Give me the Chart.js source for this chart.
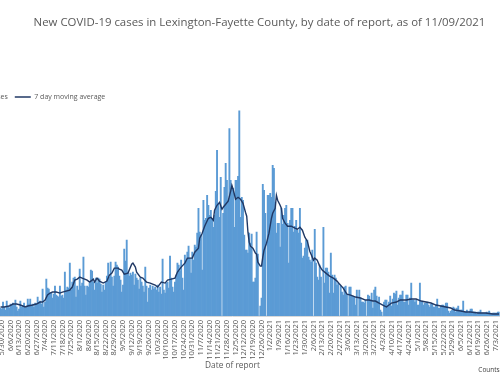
<!DOCTYPE html>
<html><head><meta charset="utf-8">
<script src="https://cdn.jsdelivr.net/npm/chart.js@4.4.1/dist/chart.umd.min.js"></script>
<style>
html,body{margin:0;padding:0;width:500px;height:378px;overflow:hidden;background:#fff;}
#c{position:absolute;top:0;}
</style></head><body>
<canvas id="c"></canvas>
<script>
// ---- data ----
const titleText = 'New COVID-19 cases in Lexington-Fayette County, by date of report, as of 11/09/2021';
const seriesNames = ['New cases', '7 day moving average'];
const xAxisTitle = 'Date of report';
const noteText = 'Counts';
const firstVisibleDate = [2020, 5, 29];   // first visible bar (5/29/2020)
const hiddenDaysBefore = 28;              // dates of the cropped-off part on the left (no visible bars)
const tickEvery = 7;                      // weekly tick labels: 5/30/2020, 6/6/2020, ...
const tickOffset = 1;

const newCases = [
16,14,28,18,12,30,18,16,24,22,
26,22,32,18,10,14,30,18,20,26,
16,20,34,24,34,20,24,18,26,24,
38,28,30,24,54,18,28,74,56,54,
46,46,36,44,60,42,40,38,60,40,
42,36,88,52,58,56,106,52,68,76,
78,38,60,52,94,60,66,118,60,42,
60,58,66,92,90,68,52,76,66,76,
74,64,48,62,52,68,80,106,78,108,
78,60,80,108,102,98,80,72,48,62,
134,110,152,88,80,86,82,88,62,84,
76,72,54,76,68,60,48,98,60,28,
56,62,52,60,54,58,52,62,48,58,
44,114,52,46,66,68,56,120,76,58,
48,68,82,106,102,90,112,76,52,122,
110,128,140,116,86,128,112,142,138,166,
216,168,162,92,232,192,196,242,222,202,
212,196,178,202,250,332,226,198,278,0,
206,258,306,272,232,376,272,256,256,178,
272,272,280,414,198,238,232,162,132,132,
126,166,146,164,68,68,76,168,124,0,
20,36,264,252,206,0,242,242,246,238,
302,296,228,166,186,186,138,216,184,202,
216,222,186,106,192,216,216,168,180,192,
172,166,216,146,116,120,136,152,152,118,
112,108,132,0,174,106,78,72,102,78,
0,178,66,96,96,88,46,126,82,46,
82,76,62,66,0,60,48,42,58,60,
42,0,58,58,40,40,38,22,52,0,
52,36,28,28,26,32,0,42,40,32,
46,16,52,58,40,30,38,12,8,0,
28,32,32,22,28,40,20,34,46,44,
50,22,36,42,42,50,28,28,42,42,
22,36,66,32,32,28,32,22,22,66,
28,28,22,26,26,28,22,18,24,24,
18,18,22,34,16,16,20,22,22,18,
26,26,10,6,10,12,18,16,8,16,
20,12,12,12,30,8,8,12,6,10,
14,14,8,8,8,4,8,8,12,6,
6,6,6,8,6,10,6,4,6,6,
6,6,8,8];

// 7-day moving average, read at these day positions (days after 5/29/2020)
const maDay = [0,3,7,10,13,16,20,22,26,29,
32,34,36,38,40,42,45,48,50,53,
56,58,60,62,64,66,70,72,75,76,
78,80,83,86,88,90,92,95,96,98,
100,103,106,107,109,110,113,115,118,121,
125,127,130,133,135,138,141,143,146,149,
151,155,157,160,161,163,165,168,170,172,
173,175,177,179,180,182,184,186,187,188,
190,192,194,196,198,199,200,201,202,204,
206,207,208,210,211,212,213,215,217,219,
220,222,223,224,226,227,228,230,232,235,
238,240,242,244,246,248,250,251,253,254,
256,258,260,262,264,266,269,272,274,277,
280,283,287,291,295,298,301,303,306,309,
312,314,316,320,323,328,332,336,340,344,
348,352,356,360,364,367,372,376,380,386,
392,398,403];
const maValue = [18,18,20,24,24,22,18,20,22,24,
28,28,32,42,46,48,48,46,48,50,
52,58,72,74,78,76,72,68,74,68,
76,70,66,70,82,86,96,96,94,92,
84,86,104,106,98,88,78,76,68,66,
62,58,68,66,72,74,76,88,98,106,
116,116,128,136,156,166,180,196,198,192,
212,222,228,214,218,224,230,250,262,254,
234,238,234,226,208,200,168,148,140,136,
126,124,108,100,100,118,132,146,166,196,
206,216,242,232,222,216,196,186,180,180,
176,174,178,172,158,150,130,124,112,116,
112,100,92,88,84,80,76,70,64,56,
44,42,38,36,32,32,30,30,26,22,
18,22,26,28,32,32,34,34,30,28,
26,22,20,18,16,12,10,8,8,6,
6,4,4];

// ---- build tables for the library ----
const nCats = hiddenDaysBefore + newCases.length;
const labels = [];
const d0 = new Date(firstVisibleDate[0], firstVisibleDate[1]-1, firstVisibleDate[2]);
for (let i = 0; i < nCats; i++) {
  const d = new Date(d0.getFullYear(), d0.getMonth(), d0.getDate() + i - hiddenDaysBefore);
  labels.push((d.getMonth()+1) + '/' + d.getDate() + '/' + d.getFullYear());
}
const barData = new Array(hiddenDaysBefore).fill(null).concat(newCases);
const maData = new Array(nCats).fill(null);
maDay.forEach((d, i) => { maData[d + hiddenDaysBefore] = maValue[i]; });

// ---- geometry / text sizing ----
const FONT = '"Open Sans", "Liberation Sans", sans-serif';
const mctx = document.createElement('canvas').getContext('2d');
mctx.font = '100px ' + FONT;
const titleSize = 100 * 452 / mctx.measureText(titleText).width;
const legendSize = 7;
mctx.font = legendSize + 'px ' + FONT;
const wNC = mctx.measureText(seriesNames[0]).width;
const legendPad = 7, legendBox = 16;
const shiftL = legendPad + legendBox + legendSize/2 + wNC + legendPad - 15; // canvas px left of page
const W = Math.round(2 * 259.5 + 2 * shiftL);
const H = 378;
const plotLeftPage = -34.5, plotRightPage = 499.9;
const leftAxisW = shiftL + plotLeftPage;
const rightAxisW = W - (shiftL + plotRightPage);

const cv = document.getElementById('c');
cv.width = W; cv.height = H;
cv.style.width = W + 'px'; cv.style.height = H + 'px';
cv.style.left = (-shiftL) + 'px';

const grey = '#595959';
new Chart(cv, {
  data: {
    labels: labels,
    datasets: [
      { type: 'bar', label: seriesNames[0], data: barData, backgroundColor: '#5B9BD5',
        borderWidth: 0, barPercentage: 1, categoryPercentage: 1, order: 1, pointStyle: 'rect',
        yAxisID: 'y', xAxisID: 'x' },
      { type: 'line', label: seriesNames[1], data: maData, borderColor: '#203864',
        backgroundColor: '#203864', borderWidth: 1.4, pointRadius: 0, spanGaps: true,
        tension: 0, order: 0, pointStyle: 'line', yAxisID: 'y', xAxisID: 'x' }
    ]
  },
  options: {
    responsive: false, animation: false, devicePixelRatio: 1,
    layout: { padding: 0 },
    plugins: {
      title: { display: true, text: titleText, color: grey,
        font: { family: FONT, size: titleSize, weight: 'normal' },
        padding: { top: 16, bottom: 86.5 - 16 - titleSize * 1.2 } },
      legend: { display: true, position: 'top', align: 'start',
        labels: { color: grey, font: { family: FONT, size: legendSize }, usePointStyle: true,
          pointStyleWidth: legendBox, boxHeight: 7, padding: legendPad,
          sort: (a, b) => a.datasetIndex - b.datasetIndex } },
      tooltip: { enabled: false }
    },
    scales: {
      x: { type: 'category', position: 'bottom', offset: true, weight: 0,
        grid: { display: false, drawTicks: false },
        border: { display: true, color: '#D9D9D9', width: 1 },
        ticks: { autoSkip: false, minRotation: 90, maxRotation: 90, padding: 4, color: grey,
          font: { family: FONT, size: 7.5 },
          callback: function(v, i) {
            const d = i - hiddenDaysBefore - tickOffset;
            return ((d % tickEvery) + tickEvery) % tickEvery === 0 ? labels[i] : null;
          } },
        title: { display: true, text: xAxisTitle, color: grey, font: { family: FONT, size: 8.3 },
          padding: { top: 0, bottom: 7 } },
        afterFit: function(s) { s.height = 62; }
      },
      x2: { type: 'linear', axis: 'x', position: 'bottom', weight: 1,
        grid: { display: false, drawTicks: false }, border: { display: false },
        ticks: { display: false },
        title: { display: true, text: noteText, align: 'end', color: '#404040',
          font: { family: FONT, size: 6.5 }, padding: { top: 0, bottom: 4 } },
        afterFit: function(s) { s.height = 0; }
      },
      y: { type: 'linear', position: 'left', min: 0, max: 412,
        grid: { display: false, drawTicks: false }, border: { display: false },
        ticks: { display: false },
        afterFit: function(s) { s.width = leftAxisW; }
      },
      y2: { type: 'linear', position: 'right',
        grid: { display: false, drawTicks: false }, border: { display: false },
        ticks: { display: false },
        afterFit: function(s) { s.width = rightAxisW; }
      }
    }
  }
});
</script>
</body></html>
